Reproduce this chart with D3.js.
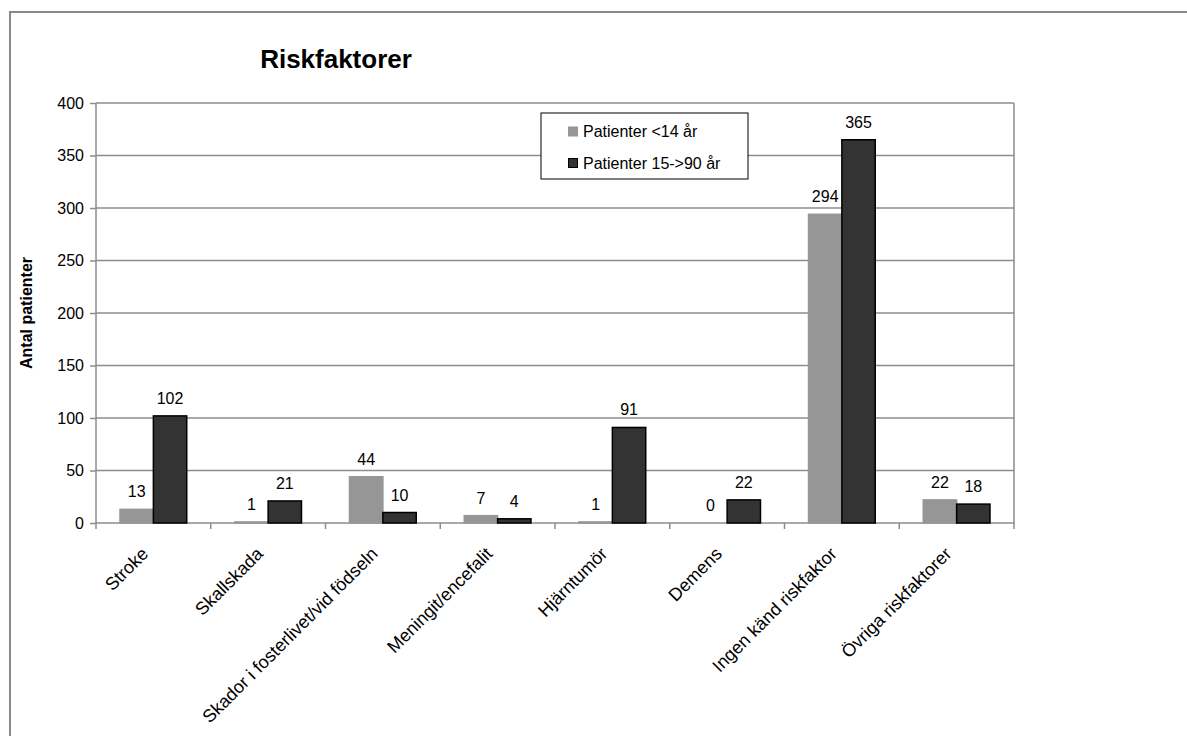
<!DOCTYPE html>
<html><head><meta charset="utf-8">
<script src="https://cdn.jsdelivr.net/npm/d3@7/dist/d3.min.js"></script>
<style>body{margin:0;background:#fff;} svg{display:block;font-family:"Liberation Sans",Arial,sans-serif;}</style>
</head><body>
<script>
const categories = ["Stroke","Skallskada","Skador i fosterlivet/vid födseln","Meningit/encefalit","Hjärntumör","Demens","Ingen känd riskfaktor","Övriga riskfaktorer"];
const seriesNames = ["Patienter <14 år","Patienter 15->90 år"];
const young = [13,1,44,7,1,0,294,22];
const adult = [102,21,10,4,91,22,365,18];
const yTicks = [0,50,100,150,200,250,300,350,400];
const title = "Riskfaktorer";
const yTitle = "Antal patienter";

const W = 1187, H = 736;
const m = {left:96, right:1014, top:103, bottom:523};
const colors = ["#969696","#333333"];
const strokes = ["#969696","#000000"];

const svg = d3.select("body").append("svg").attr("width",W).attr("height",H);
svg.append("rect").attr("x",10).attr("y",12).attr("width",W+20).attr("height",H+20)
  .attr("fill","none").attr("stroke","#888").attr("stroke-width",2);

const x = d3.scaleBand().domain(categories).range([m.left,m.right]).paddingInner(0).paddingOuter(0);
const x1 = d3.scaleBand().domain(seriesNames).range([0,x.bandwidth()]).paddingInner(0).paddingOuter(0.72);
const y = d3.scaleLinear().domain([0,400]).range([m.bottom,m.top]);

// gridlines
svg.append("g").selectAll("line").data(yTicks.filter(d=>d>0)).join("line")
  .attr("x1",m.left).attr("x2",m.right).attr("y1",d=>y(d)).attr("y2",d=>y(d))
  .attr("stroke","#8c8c8c").attr("stroke-width",1.5);
// right edge
svg.append("line").attr("x1",m.right).attr("x2",m.right).attr("y1",m.top).attr("y2",m.bottom)
  .attr("stroke","#8c8c8c").attr("stroke-width",1.5);

// y axis
const ya = svg.append("g").attr("transform",`translate(${m.left},0)`)
  .call(d3.axisLeft(y).tickValues(yTicks).tickSize(6).tickPadding(6));
ya.selectAll("path,line").attr("stroke","#8c8c8c").attr("stroke-width",1.5);
ya.select(".domain").attr("d",`M0,${m.top}V${m.bottom}`);
ya.selectAll("text").attr("font-size",16).attr("fill","#000").attr("font-family","Liberation Sans, Arial, sans-serif");

// x axis
const xa = svg.append("g").attr("transform",`translate(0,${m.bottom})`)
  .call(d3.axisBottom(x).tickSize(0).tickFormat(""));
xa.select(".domain").attr("stroke","#8c8c8c").attr("stroke-width",1.5).attr("d",`M${m.left},0H${m.right}`);
const bounds = categories.map(c=>x(c)).concat([m.right]);
svg.append("g").selectAll("line").data(bounds).join("line")
  .attr("x1",d=>d).attr("x2",d=>d).attr("y1",m.bottom).attr("y2",m.bottom+6)
  .attr("stroke","#8c8c8c").attr("stroke-width",1.5);

// x labels
svg.append("g").selectAll("text").data(categories).join("text")
  .attr("transform",d=>`translate(${x(d)+x.bandwidth()/2-4},${m.bottom+32}) rotate(-45)`)
  .attr("text-anchor","end").attr("font-size",18).text(d=>d);

// bars
const series = [young, adult];
series.forEach((vals,si)=>{
  const g = svg.append("g");
  g.selectAll("rect").data(vals).join("rect")
    .attr("x",(d,i)=>x(categories[i])+x1(seriesNames[si]))
    .attr("width",x1.bandwidth())
    .attr("y",d=>y(d)).attr("height",d=>y(0)-y(d))
    .attr("fill",colors[si]).attr("stroke",d=>d>0?strokes[si]:"none").attr("stroke-width",1.5);
  g.selectAll("text").data(vals).join("text")
    .attr("x",(d,i)=>x(categories[i])+x1(seriesNames[si])+x1.bandwidth()/2)
    .attr("y",d=>y(d)-12)
    .attr("text-anchor","middle").attr("font-size",16).text(d=>d);
});

// title
svg.append("text").attr("x",336).attr("y",68).attr("text-anchor","middle")
  .attr("font-size",26).attr("font-weight","bold").text(title);

// y title
svg.append("text").attr("transform",`translate(32,${(m.top+m.bottom)/2}) rotate(-90)`)
  .attr("text-anchor","middle").attr("font-size",16).attr("font-weight","bold").text(yTitle);

// legend
const lg = svg.append("g");
lg.append("rect").attr("x",541).attr("y",113).attr("width",207).attr("height",66)
  .attr("fill","#fff").attr("stroke","#000").attr("stroke-width",1);
seriesNames.forEach((s,i)=>{
  const yy = 131.5 + i*31.5;
  lg.append("rect").attr("x",568.5).attr("y",yy-4.5).attr("width",9).attr("height",9)
    .attr("fill",colors[i]).attr("stroke",i===1?"#000":colors[i]).attr("stroke-width",1);
  lg.append("text").attr("x",583).attr("y",yy).attr("dy","0.35em").attr("font-size",16).text(s);
});
</script>
</body></html>
